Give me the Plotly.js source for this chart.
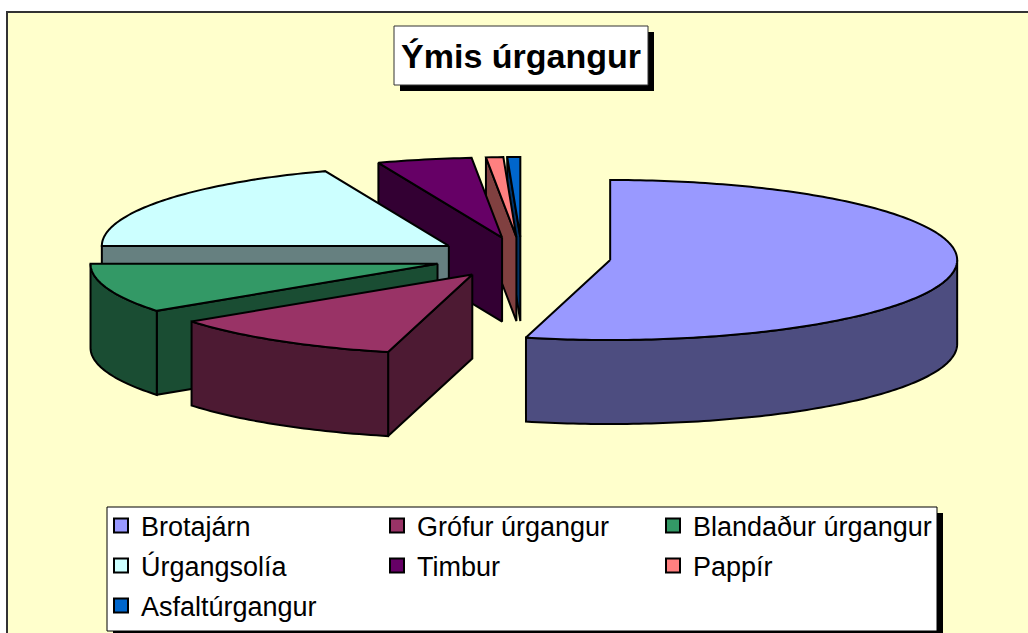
<!DOCTYPE html>
<html><head><meta charset="utf-8">
<script src="https://cdn.plot.ly/plotly-3.0.1.min.js"></script>
<style>html,body{margin:0;padding:0;background:#fff;overflow:hidden}</style>
</head><body><div id="chart" style="width:1028px;height:633px"></div>
<script>
const categories = ["Brotajárn","Grófur úrgangur","Blandaður úrgangur","Úrgangsolía","Timbur","Pappír","Asfaltúrgangur"];
const shares = [53.9,11.1,10,19.2,4.4,0.8,0.6];
const topColors = ["#9999FF","#993366","#339966","#CCFFFF","#660066","#FF8080","#0066CC"];
const sideColors = ["#4D4D80","#4D1A33","#1A4D33","#668080","#330033","#804040","#003366"];

const W=1028,H=633, cx=522, cy=257.5, rx=347, ry=80;
const depth=84/ry, explode=0.256;
const total=shares.reduce((a,b)=>a+b,0);
const rad=d=>d*Math.PI/180;
const traces=[];
function poly(xs,ys,fill){
  traces.push({type:'scatter',mode:'lines',x:xs,y:ys,fill:'toself',fillcolor:fill,
    line:{color:'#000',width:2,simplify:false},showlegend:false,hoverinfo:'skip'});
}
function arc(a,b,ox,oy){
  const xs=[],ys=[];const n=Math.max(2,Math.ceil(Math.abs(b-a)));
  for(let i=0;i<=n;i++){const t=rad(a+(b-a)*i/n);xs.push(ox+Math.sin(t));ys.push(oy+Math.cos(t));}
  return [xs,ys];
}
let acc=0;
const slices=shares.map((v,i)=>{const a=acc/total*360;acc+=v;const b=acc/total*360;
  const m=rad((a+b)/2);return {i,a,b,ox:explode*Math.sin(m),oy:explode*Math.cos(m)};});
// paint from back to front
slices.slice().reverse().forEach(s=>{
  const col=topColors[s.i],side=sideColors[s.i];
  // cut face of the starting edge, when it faces the viewer
  if(Math.sin(rad(s.a))<-1e-6){
    const ex=s.ox+Math.sin(rad(s.a)),ey=s.oy+Math.cos(rad(s.a));
    poly([s.ox,ex,ex,s.ox,s.ox],[s.oy,ey,ey-depth,s.oy-depth,s.oy],side);
  }
  // outer rim wall
  const r1=Math.max(s.a,90),r2=Math.min(s.b,270);
  if(r2>r1){
    const [ax,ay]=arc(r1,r2,s.ox,s.oy);
    const xs=ax.concat(ax.slice().reverse(),[ax[0]]);
    const ys=ay.concat(ay.slice().reverse().map(y=>y-depth),[ay[0]]);
    poly(xs,ys,side);
  }
  // top face
  const [tx,ty]=arc(s.a,s.b,s.ox,s.oy);
  poly([s.ox].concat(tx,[s.ox]),[s.oy].concat(ty,[s.oy]),col);
});
const px=x=>x/W, py=y=>1-y/H;
// one legend per entry, on a grid of three columns
const legendCols=[101,377,653], legendRows=[526,566,606];
const legends={};
categories.forEach((c,i)=>{
  const id=i===0?'legend':'legend'+(i+1);
  legends[id]={x:px(legendCols[i%3]),xanchor:'left',y:py(legendRows[Math.floor(i/3)]),yanchor:'middle',
    bgcolor:'rgba(0,0,0,0)',borderwidth:0,itemwidth:30,
    font:{family:'"Liberation Sans",Arial,sans-serif',size:27,color:'#000'},itemclick:false,itemdoubleclick:false};
  traces.push({type:'scatter',mode:'markers',x:[null],y:[null],name:c,legend:id,showlegend:true,hoverinfo:'skip',
    marker:{symbol:'square',size:14,color:topColors[i],line:{color:'#000',width:2}}});
});
const rect=(x0,y0,x1,y1,fill,lc,lw)=>({type:'rect',xref:'paper',yref:'paper',layer:'below',
  x0:px(x0),x1:px(x1),y0:py(y0),y1:py(y1),fillcolor:fill,line:{color:lc,width:lw}});
const layout=Object.assign({
  width:W,height:H,margin:{l:0,r:0,t:0,b:0,pad:0},paper_bgcolor:'#fff',plot_bgcolor:'rgba(0,0,0,0)',
  hovermode:false,dragmode:false,
  title:{text:'<b>Ýmis úrgangur</b>',x:px(521),xanchor:'center',xref:'paper',y:py(56),yanchor:'middle',yref:'paper',
    font:{family:'"Liberation Sans",Arial,sans-serif',size:34,color:'#000'}},
  xaxis:{range:[-cx/rx,(W-cx)/rx],visible:false,fixedrange:true},
  yaxis:{range:[(cy-H)/ry,cy/ry],visible:false,fixedrange:true},
  shapes:[
    rect(7,12,1040,645,'#FFFFCC','#333',2),
    rect(400,32,654,91,'#000','#000',0),
    rect(394,26,648,85,'#fff','#333',1),
    rect(113,513,943,640,'#000','#000',0),
    rect(107,507,937,631,'#fff','#000',1)
  ],
  showlegend:true
},legends);
Plotly.newPlot('chart',traces,layout,{displayModeBar:false,responsive:false});
</script></body></html>
